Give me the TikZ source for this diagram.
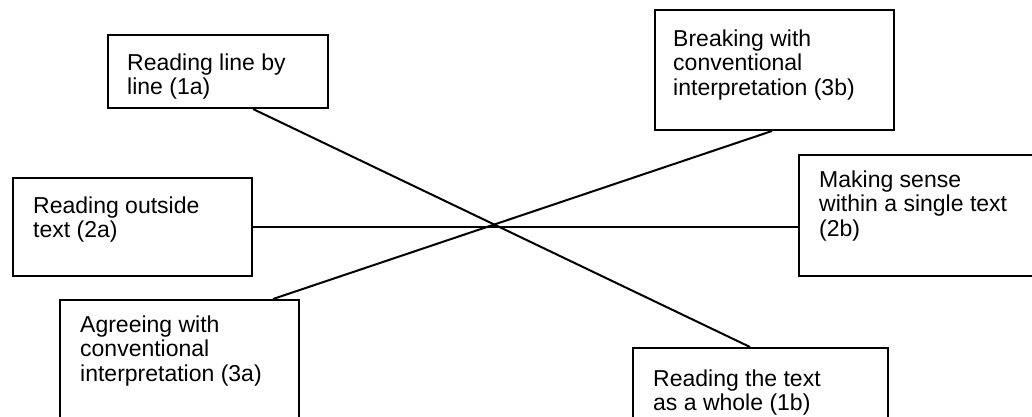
\documentclass[tikz,border=0pt]{standalone}
\usepackage{fontspec}
\setmainfont{Liberation Sans}
\begin{document}
\begin{tikzpicture}[x=1pt,y=-1pt,
  box/.style={draw=black, line width=2pt, rectangle, anchor=north west, inner sep=0pt},
  txt/.style={anchor=north west, inner sep=0pt, align=left,
    font=\fontsize{23}{24.5}\selectfont},
  link/.style={draw=black, line width=2pt}]
\useasboundingbox[fill=white] (0,0) rectangle (1032,417);
% boxes
\node[box, minimum width=220pt, minimum height=73pt] (b1) at (107,34) {};
\node[box, minimum width=239pt, minimum height=120pt] (b2) at (654,9) {};
\node[box, minimum width=239pt, minimum height=98pt] (b3) at (12,177) {};
\node[box, minimum width=250pt, minimum height=121pt] (b4) at (798,154) {};
\node[box, minimum width=239pt, minimum height=140pt] (b5) at (59,299) {};
\node[box, minimum width=255pt, minimum height=100pt] (b6) at (632,347) {};
% texts
\node[txt] (t1) at (127,53) {\rule{0pt}{17pt}Reading line by\\line (1a)};
\node[txt] (t2) at (673,29) {\rule{0pt}{17pt}Breaking with\\conventional\\interpretation (3b)};
\node[txt] (t3) at (33,196) {\rule{0pt}{17pt}Reading outside\\text (2a)};
\node[txt] (t4) at (819,170) {\rule{0pt}{17pt}Making sense\\within a single text\\(2b)};
\node[txt] (t5) at (80,315) {\rule{0pt}{17pt}Agreeing with\\conventional\\interpretation (3a)};
\node[txt] (t6) at (653,369) {\rule{0pt}{17pt}Reading the text\\as a whole (1b)};
% connectors
\draw[link] ([xshift=146pt]b1.south west) -- ([xshift=118pt]b6.north west);
\draw[link] ([xshift=214pt]b5.north west) -- ([xshift=118pt]b2.south west);
\draw[link] (b3.east) -- (b3.east -| b4.west);
\end{tikzpicture}
\end{document}
